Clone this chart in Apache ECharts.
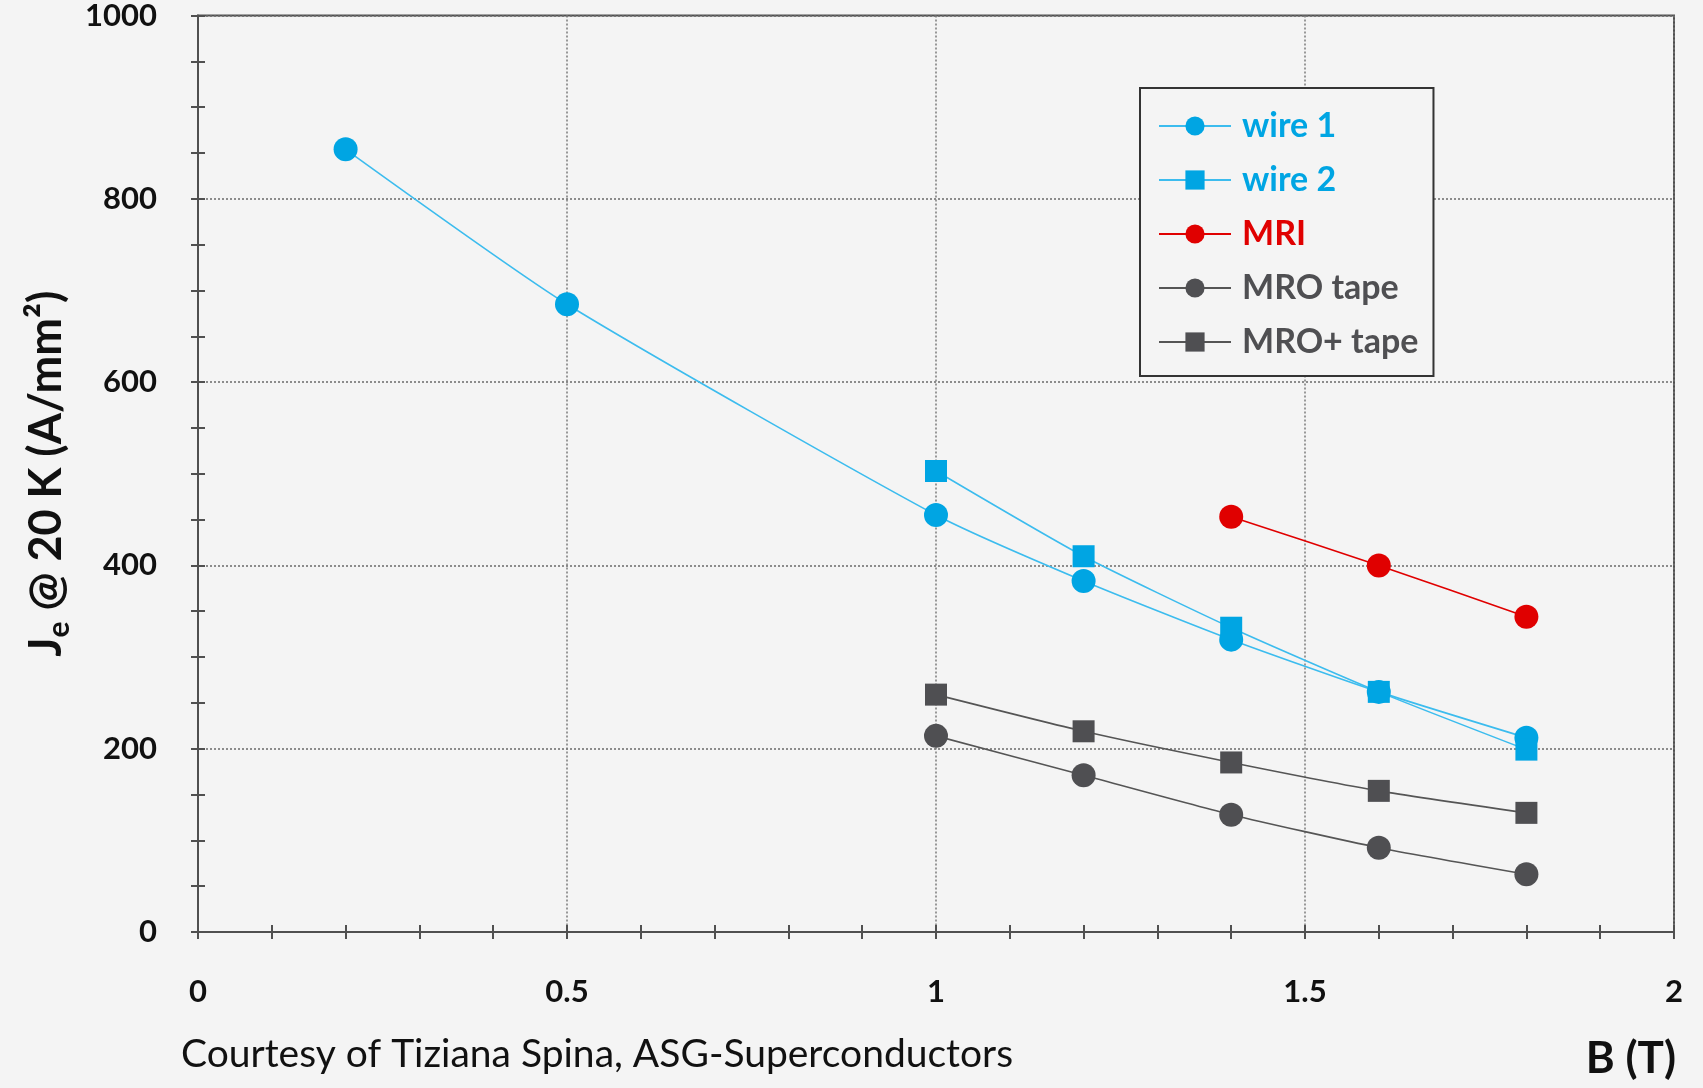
<!DOCTYPE html>
<html>
<head>
<meta charset="utf-8">
<script src="https://cdn.jsdelivr.net/npm/echarts@6/dist/echarts.min.js"></script>
<style>
  html, body { margin: 0; padding: 0; background: #f4f4f4; }
  #chart { width: 1703px; height: 1088px; }
</style>
</head>
<body>
<div id="chart"></div>
<script>
// magnetic field B (T) for each series
var wire1B = [0.2, 0.5, 1.0, 1.2, 1.4, 1.6, 1.8];
var wire2B = [1.0, 1.2, 1.4, 1.6, 1.8];
var mriB = [1.4, 1.6, 1.8];
var mroB = [1.0, 1.2, 1.4, 1.6, 1.8];
var mroPlusB = [1.0, 1.2, 1.4, 1.6, 1.8];

// Je @ 20 K (A/mm2)
var wire1Je = [854, 685, 455, 383, 319, 262, 212];
var wire2Je = [503, 410, 332, 262, 199];
var mriJe = [453, 400, 344];
var mroJe = [214, 171, 128, 92, 63];
var mroPlusJe = [259, 219, 185, 154, 130];

var seriesNames = ["wire 1", "wire 2", "MRI", "MRO tape", "MRO+ tape"];
var yTicks = [0, 200, 400, 600, 800, 1000];
var xTicks = [0, 0.5, 1, 1.5, 2];

var blue = "#00a5e3", blueLine = "#3cbcee", red = "#e00000", grey = "#4f4f52";
var axisGrey = "#505050";

function pairs(xs, ys) {
  return xs.map(function (x, i) { return [x, ys[i]]; });
}

var myChart = echarts.init(document.getElementById("chart"));

function lineSeries(name, xs, ys, symbol, color, lineColor, size) {
  return {
    name: name,
    type: "line",
    data: pairs(xs, ys),
    symbol: symbol,
    symbolSize: size,
    smooth: 0.2,
    itemStyle: { color: color },
    lineStyle: { color: lineColor, width: 1.6 },
    z: 3
  };
}

var legendColors = [blue, blue, red, grey, grey];

var tickStyle = { color: axisGrey, width: 2 };

var option = {
  backgroundColor: "#f4f4f4",
  animation: false,
  textStyle: { fontFamily: "Lato" },
  grid: {
    left: 198, right: 29, top: 14, bottom: 156,
    show: true, borderColor: axisGrey, borderWidth: 2
  },
  legend: {
    orient: "vertical",
    left: 1140, top: 88,
    backgroundColor: "#f4f4f4",
    borderColor: "#333",
    borderWidth: 2,
    padding: [18, 15, 14, 18],
    itemWidth: 72,
    itemHeight: 24,
    itemGap: 14,
    data: seriesNames.map(function (n, i) {
      return { name: n, textStyle: { color: legendColors[i] } };
    }),
    textStyle: { fontSize: 34, fontWeight: "bold", fontFamily: "Lato", lineHeight: 40, padding: [0, 0, 0, 6] }
  },
  xAxis: [{
    type: "value",
    min: 0, max: 2, interval: 0.5,
    axisLine: { show: true, lineStyle: { color: axisGrey, width: 2 } },
    axisTick: { show: true, inside: true, length: 7, lineStyle: tickStyle },
    minorTick: { show: true, splitNumber: 5, length: 7, lineStyle: tickStyle },
    splitLine: { show: true, lineStyle: { color: "#7a7a7a", type: [2, 2], width: 1.5 } },
    axisLabel: {
      margin: 44, fontSize: 31, fontWeight: "bold", color: "#111",
      formatter: function (v) { return xTicks.indexOf(v) >= 0 ? String(v) : ""; }
    }
  }, {
    type: "value", position: "top",
    min: 0, max: 2, interval: 0.5,
    axisLine: { show: false },
    axisTick: { show: true, inside: true, length: 7, lineStyle: tickStyle },
    minorTick: { show: true, splitNumber: 5, length: 7, lineStyle: tickStyle },
    splitLine: { show: false },
    axisLabel: { show: false }
  }],
  yAxis: [{
    type: "value",
    min: 0, max: 1000, interval: 200,
    name: "{a|J}{s|e}{a| @ 20 K (A/mm²)}",
    nameLocation: "middle",
    nameGap: 124,
    nameTextStyle: {
      rich: {
        a: { fontSize: 45, fontWeight: "bold", color: "#111", fontFamily: "Lato", lineHeight: 56 },
        s: { fontSize: 30, fontWeight: "bold", color: "#111", fontFamily: "Lato", lineHeight: 36, verticalAlign: "bottom" }
      }
    },
    axisLine: { show: true, lineStyle: { color: axisGrey, width: 2 } },
    axisTick: { show: true, inside: true, length: 7, lineStyle: tickStyle },
    minorTick: { show: true, splitNumber: 4, length: 7, lineStyle: tickStyle },
    splitLine: { show: true, lineStyle: { color: "#6a6a6a", type: [2, 2], width: 1.5 } },
    axisLabel: {
      margin: 41, fontSize: 31, fontWeight: "bold", color: "#111",
      formatter: function (v) { return yTicks.indexOf(v) >= 0 ? String(v) : ""; }
    }
  }, {
    type: "value", position: "right",
    min: 0, max: 1000, interval: 200,
    axisLine: { show: false },
    axisTick: { show: true, inside: true, length: 7, lineStyle: tickStyle },
    minorTick: { show: true, splitNumber: 4, length: 7, lineStyle: tickStyle },
    splitLine: { show: false },
    axisLabel: { show: false }
  }],
  graphic: [{
    type: "text",
    x: 181, y: 1054,
    style: {
      text: "Courtesy of Tiziana Spina, ASG-Superconductors",
      fontSize: 39, fontFamily: "Lato", fill: "#111",
      textVerticalAlign: "middle"
    }
  }, {
    type: "text",
    x: 1676, y: 1059,
    style: {
      text: "B (T)",
      fontSize: 44, fontWeight: "bold", fontFamily: "Lato", fill: "#111",
      textAlign: "right", textVerticalAlign: "middle"
    }
  }],
  series: [
    lineSeries("wire 1", wire1B, wire1Je, "circle", blue, blueLine, 24),
    lineSeries("wire 2", wire2B, wire2Je, "rect", blue, blueLine, 22),
    lineSeries("MRI", mriB, mriJe, "circle", red, red, 24),
    lineSeries("MRO tape", mroB, mroJe, "circle", grey, "#555", 24),
    lineSeries("MRO+ tape", mroPlusB, mroPlusJe, "rect", grey, "#555", 22)
  ]
};

myChart.setOption(option);
</script>
</body>
</html>
